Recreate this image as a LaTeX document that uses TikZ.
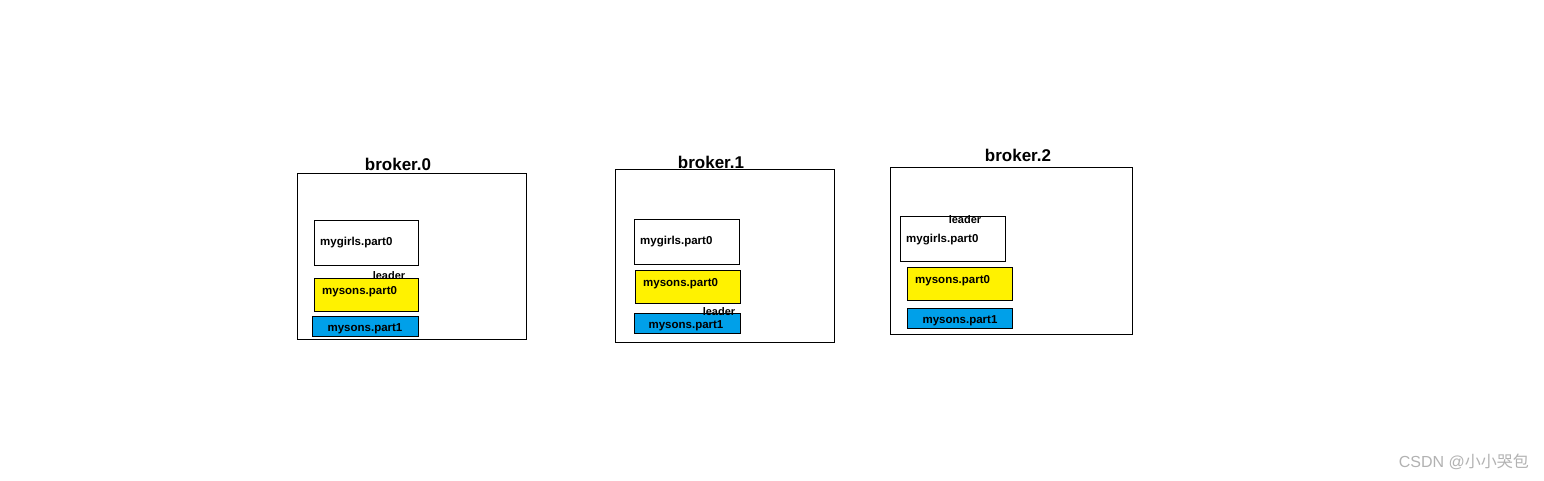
\documentclass[tikz,border=0pt]{standalone}
\usepackage{fontspec}
\setmainfont{Liberation Sans}
\newfontfamily\cjk{Noto Sans CJK SC}
\definecolor{kblue}{RGB}{0,160,233}
\definecolor{kyellow}{RGB}{255,242,0}
\tikzset{
  broker/.style={draw=black, line width=0.9pt, inner sep=0pt},
  part/.style={draw=black, line width=0.8pt, inner sep=0pt},
  girls/.style={part, fill=white},
  sonsA/.style={part, fill=kyellow},
  sonsB/.style={part, fill=kblue},
  ttl/.style={inner sep=0pt, font=\fontsize{17}{19}\selectfont\bfseries},
  lbl/.style={inner sep=0pt, font=\fontsize{11.5}{13}\selectfont\bfseries},
  ldr/.style={inner sep=0pt, font=\fontsize{11}{13}\selectfont\bfseries},
}
\begin{document}
\begin{tikzpicture}[x=1pt,y=-1pt]
\useasboundingbox[fill=white] (0,0) rectangle (1544,480);
% broker 0
\node[broker, minimum width=229, minimum height=166] (b0) at (411.5,256) {};
\node[ttl] (t0) at (398,164) {broker.0};
\node[girls, minimum width=104, minimum height=45] (g0) at (366,242.5) {};
\node[lbl, anchor=west] (g0t) at (320,243) {mygirls.part0};
\node[sonsA, minimum width=104, minimum height=33] (y0) at (366,294.5) {};
\node[lbl, anchor=west] (y0t) at (322,292) {mysons.part0};
\node[sonsB, minimum width=106, minimum height=20] (c0) at (365,326) {};
\node[lbl] (c0t) at (365,329) {mysons.part1};
\node[ldr] (l0) at (389,276) {leader};
% broker 1
\node[broker, minimum width=219, minimum height=173] (b1) at (724.5,255.5) {};
\node[ttl] (t1) at (711,162) {broker.1};
\node[girls, minimum width=105, minimum height=45] (g1) at (686.5,241.5) {};
\node[lbl, anchor=west] (g1t) at (640,242) {mygirls.part0};
\node[sonsA, minimum width=105, minimum height=33] (y1) at (687.5,286.5) {};
\node[lbl, anchor=west] (y1t) at (643,284) {mysons.part0};
\node[sonsB, minimum width=106, minimum height=20] (c1) at (687,323) {};
\node[lbl] (c1t) at (686,326) {mysons.part1};
\node[ldr] (l1) at (719,312) {leader};
% broker 2
\node[broker, minimum width=242, minimum height=167] (b2) at (1011,250.5) {};
\node[ttl] (t2) at (1018,155) {broker.2};
\node[girls, minimum width=105, minimum height=45] (g2) at (952.5,238.5) {};
\node[lbl, anchor=west] (g2t) at (906,239.5) {mygirls.part0};
\node[sonsA, minimum width=105, minimum height=33] (y2) at (959.5,283.5) {};
\node[lbl, anchor=west] (y2t) at (915,281) {mysons.part0};
\node[sonsB, minimum width=105, minimum height=20] (c2) at (959.5,318) {};
\node[lbl] (c2t) at (960,321) {mysons.part1};
\node[ldr] (l2) at (965,219.5) {leader};
% watermark
\node[inner sep=0pt, anchor=east, text=black!30, font=\fontsize{16}{18}\selectfont] (wm) at (1529,462) {CSDN @{\cjk 小小哭包}};
\end{tikzpicture}
\end{document}
